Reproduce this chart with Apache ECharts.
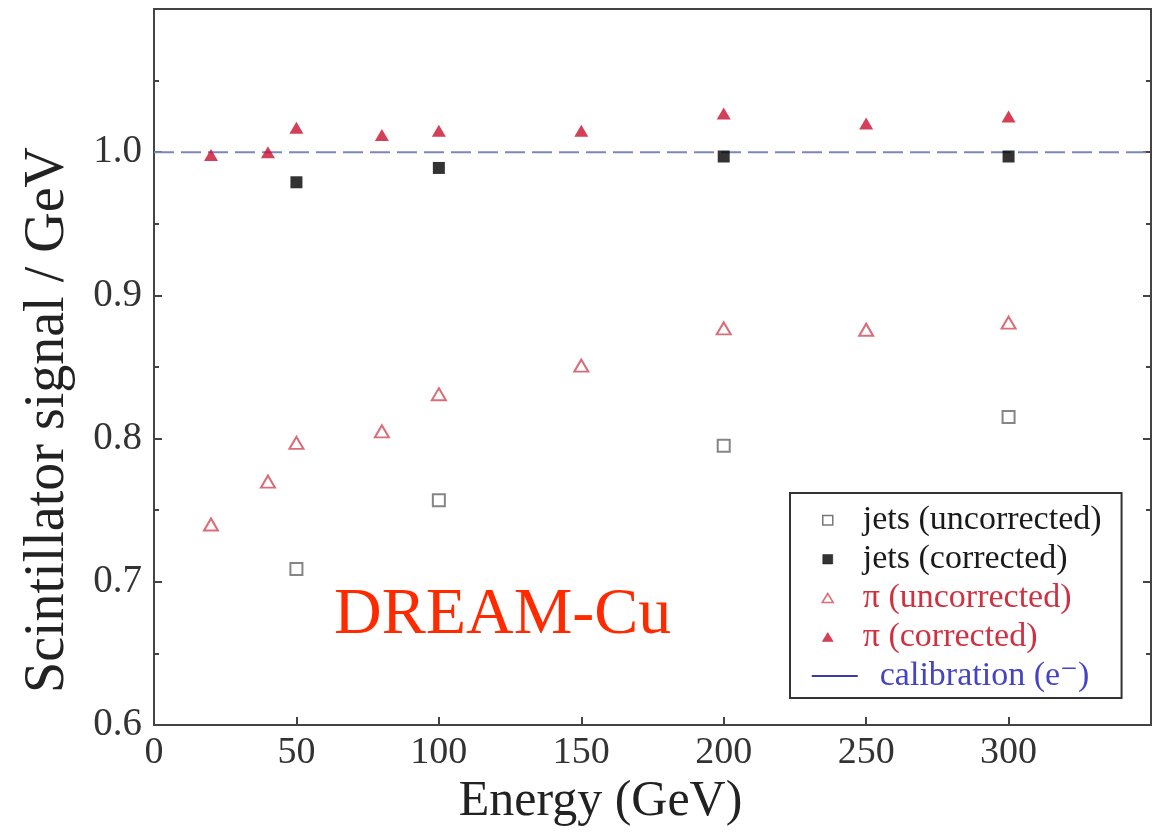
<!DOCTYPE html>
<html>
<head>
<meta charset="utf-8">
<script src="https://cdn.jsdelivr.net/npm/echarts@6/dist/echarts.min.js"></script>
<style>
  html, body { margin: 0; padding: 0; background: #fff; }
  #chart { width: 1157px; height: 834px; }
</style>
</head>
<body>
<div id="chart"></div>
<script>
// Beam energies (GeV) for pion and jet measurements
const energiesPi = [20, 40, 50, 80, 100, 150, 200, 250, 300];
const energiesJets = [50, 100, 200, 300];

// Scintillator signal per GeV
const piUncorrected = [0.740, 0.770, 0.797, 0.805, 0.831, 0.851, 0.877, 0.876, 0.881];
const piCorrected = [0.998, 1.000, 1.017, 1.012, 1.015, 1.015, 1.027, 1.020, 1.025];
const jetsUncorrected = [0.709, 0.757, 0.795, 0.815];
const jetsCorrected = [0.979, 0.989, 0.997, 0.997];

// Electron calibration level across the energy range
const calibrationEnergies = [0, 350];
const calibrationLevel = [1.0, 1.0];

// Tick labels
const xTickLabels = ['0', '50', '100', '150', '200', '250', '300'];
const yTickLabels = ['0.6', '0.7', '0.8', '0.9', '1.0'];

const SERIF = "'Liberation Serif', 'Times New Roman', 'DejaVu Serif', serif";
const AXIS_COLOR = '#444';
const PI_TEXT = '#d03040';

const pairs = (xs, ys) => xs.map((x, i) => [x, ys[i]]);

// Legend icons live in a 46x10 box; the leading moveTo points pin the box
// so the small markers sit near the left, as in a classic plot key.
const ICON_BOX = 'M0 0M46 10';
const ICON_SQUARE = 'path://' + ICON_BOX + 'M11 0.5H21V10H11Z';
const ICON_TRIANGLE = 'path://' + ICON_BOX + 'M10.5 9.5L16 0.5L21.5 9.5Z';
const ICON_LINE = 'path://' + ICON_BOX + 'M0 4H46V6H0Z';

const chart = echarts.init(document.getElementById('chart'), null, { renderer: 'canvas' });

const yAxisCommon = {
  type: 'value',
  min: 0.6,
  max: 1.1,
  interval: 0.1,
  splitLine: { show: false },
  axisLine: { show: true, lineStyle: { color: AXIS_COLOR, width: 2 } },
  axisTick: { show: true, inside: true, length: 8, lineStyle: { color: AXIS_COLOR, width: 2 } },
  minorTick: { show: true, splitNumber: 2, length: 5, lineStyle: { color: AXIS_COLOR, width: 2 } },
  minorSplitLine: { show: false }
};

chart.setOption({
  animation: false,
  backgroundColor: '#fff',
  grid: {
    left: 154, right: 6, top: 9, bottom: 109,
    show: true, borderColor: AXIS_COLOR, borderWidth: 2, backgroundColor: 'transparent'
  },
  xAxis: {
    type: 'value',
    min: 0,
    max: 350,
    interval: 50,
    splitLine: { show: false },
    axisLine: { show: true, lineStyle: { color: AXIS_COLOR, width: 2 } },
    axisTick: { show: true, inside: true, length: 8, lineStyle: { color: AXIS_COLOR, width: 2 } },
    axisLabel: {
      fontFamily: SERIF, fontSize: 38, color: '#333', margin: 9,
      formatter: v => xTickLabels[Math.round(v / 50)] || ''
    },
    name: 'Energy (GeV)',
    nameLocation: 'middle',
    nameGap: 50,
    nameTextStyle: { fontFamily: SERIF, fontSize: 50, color: '#222', padding: [0, 104, 0, 0] }
  },
  yAxis: [
    Object.assign({}, yAxisCommon, {
      position: 'left',
      axisLabel: {
        fontFamily: SERIF, fontSize: 39, color: '#333', margin: 12,
        formatter: v => yTickLabels[Math.round((v - 0.6) / 0.1)] || ''
      },
      name: 'Scintillator signal / GeV',
      nameLocation: 'middle',
      nameGap: 78,
      nameTextStyle: { fontFamily: SERIF, fontSize: 56, color: '#222', padding: [0, 106, 0, 0] }
    }),
    Object.assign({}, yAxisCommon, {
      position: 'right',
      axisLabel: { show: false }
    })
  ],
  legend: {
    orient: 'vertical',
    left: 790,
    top: 493,
    padding: [10, 20, 5, 21],
    borderColor: '#333',
    borderWidth: 2,
    backgroundColor: '#fff',
    itemWidth: 46,
    itemHeight: 10,
    itemGap: 5,
    selectedMode: false,
    textStyle: { fontFamily: SERIF, fontSize: 34, color: '#1a1a1a' },
    formatter: name => (name.indexOf('calibration') === 0 ? '\u2002' + name : name),
    data: [
      { name: 'jets (uncorrected)', icon: ICON_SQUARE,
        itemStyle: { color: '#fff', borderColor: '#555', borderWidth: 1.5 } },
      { name: 'jets (corrected)', icon: ICON_SQUARE,
        itemStyle: { color: '#000', borderColor: '#000', borderWidth: 0.5 } },
      { name: 'π (uncorrected)', icon: ICON_TRIANGLE,
        itemStyle: { color: '#fff', borderColor: '#d04858', borderWidth: 1.5 },
        textStyle: { color: PI_TEXT } },
      { name: 'π (corrected)', icon: ICON_TRIANGLE,
        itemStyle: { color: '#c8102e', borderColor: '#c8102e', borderWidth: 0.5 },
        textStyle: { color: PI_TEXT } },
      { name: 'calibration (e⁻)', icon: ICON_LINE,
        itemStyle: { color: '#3a3aa8', borderWidth: 0 },
        textStyle: { color: '#4444c4' } }
    ]
  },
  graphic: [{
    type: 'text',
    x: 334,
    y: 616,
    silent: true,
    style: {
      text: 'DREAM-Cu',
      fontFamily: SERIF,
      fontSize: 66,
      fill: '#ff2a00',
      align: 'left',
      verticalAlign: 'middle'
    }
  }],
  series: [
    {
      name: 'calibration (e⁻)',
      type: 'line',
      z: 1,
      data: pairs(calibrationEnergies, calibrationLevel),
      showSymbol: false,
      symbol: 'none',
      itemStyle: { color: '#3a3aa8' },
      lineStyle: { color: '#7f86bd', width: 2, type: [20, 7] },
      silent: true
    },
    {
      name: 'jets (uncorrected)',
      type: 'scatter',
      z: 3,
      data: pairs(energiesJets, jetsUncorrected),
      symbol: 'emptyRect',
      symbolSize: 12,
      itemStyle: { color: '#666', borderColor: '#666', borderWidth: 2 }
    },
    {
      name: 'jets (corrected)',
      type: 'scatter',
      z: 3,
      data: pairs(energiesJets, jetsCorrected),
      symbol: 'rect',
      symbolSize: 12,
      itemStyle: { color: '#000' }
    },
    {
      name: 'π (uncorrected)',
      type: 'scatter',
      z: 3,
      data: pairs(energiesPi, piUncorrected),
      symbol: 'emptyTriangle',
      symbolSize: [14, 12],
      itemStyle: { color: '#d04858', borderColor: '#d04858', borderWidth: 2 }
    },
    {
      name: 'π (corrected)',
      type: 'scatter',
      z: 3,
      data: pairs(energiesPi, piCorrected),
      symbol: 'triangle',
      symbolSize: [14, 12],
      itemStyle: { color: '#c8102e' }
    }
  ]
});
</script>
</body>
</html>
